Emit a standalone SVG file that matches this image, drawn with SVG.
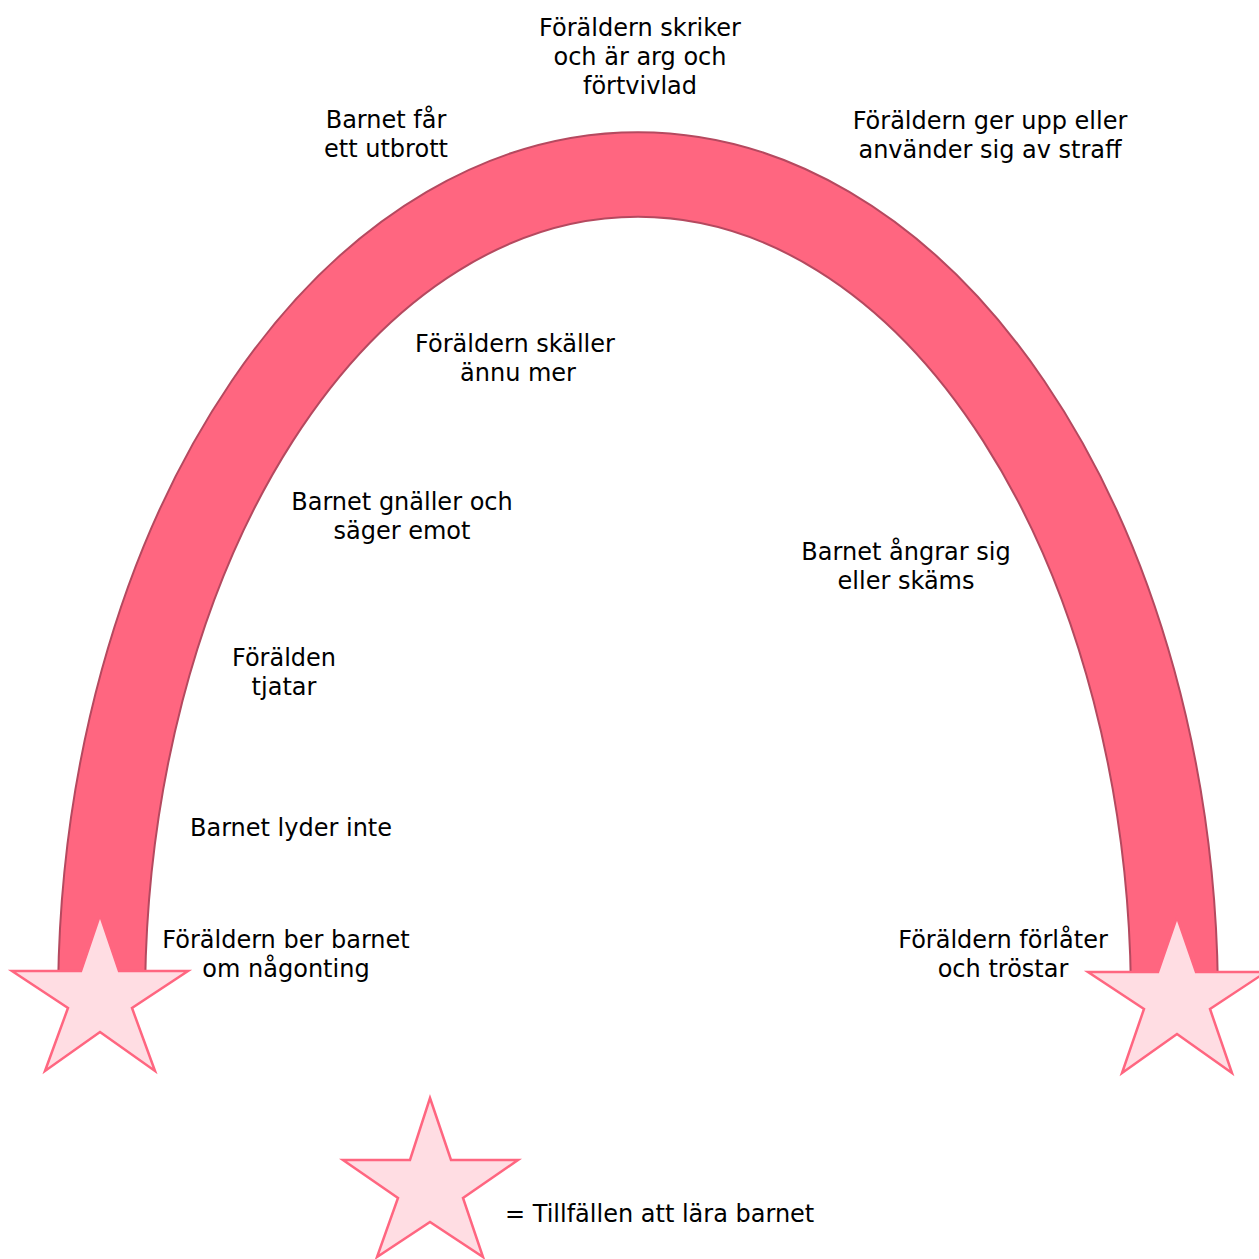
<svg xmlns="http://www.w3.org/2000/svg" width="1259" height="1259" viewBox="0 0 1259 1259">
  <style>
    .lbl { font-family: "DejaVu Sans", Verdana, sans-serif; font-size: 24px; fill: #000000; text-anchor: middle; }
    .star { fill: #FFDDE3; stroke: #FF6680; stroke-width: 2.5; stroke-linejoin: miter; }
    .arc { fill: #FF6680; stroke: #B5495F; stroke-width: 2; }
  </style>
  <rect width="1259" height="1259" fill="#FFFFFF"/>
  <g id="arc">
    <path class="arc" d="M 58.1,985 A 580 869 0 0 1 1217.9,985 L 1130.9,985 A 493 784 0 0 0 145.1,985 Z"/>
  </g>
  <g id="star-left">
    <polygon class="star" points="100,915 119,971 188,971 132,1008 155,1071 100,1032 45,1071 68,1008 12,971 81,971"/>
  </g>
  <g id="star-right">
    <polygon class="star" points="1177,917 1196,972 1266,972 1210,1009 1232,1073 1177,1034 1122,1073 1144,1009 1088,972 1158,972"/>
  </g>
  <g id="star-legend">
    <polygon class="star" points="430,1098 451,1160 518,1160 463,1198 483,1257 430,1222 377,1257 398,1198 343,1160 410,1160"/>
  </g>
  <g id="connectors"></g>
  <g id="label-skriker">
    <text class="lbl" x="640" y="36">Föräldern skriker</text>
    <text class="lbl" x="640" y="65">och är arg och</text>
    <text class="lbl" x="640" y="94">förtvivlad</text>
  </g>
  <g id="label-utbrott">
    <text class="lbl" x="386" y="128">Barnet får</text>
    <text class="lbl" x="386" y="157">ett utbrott</text>
  </g>
  <g id="label-gerupp">
    <text class="lbl" x="990" y="129">Föräldern ger upp eller</text>
    <text class="lbl" x="990" y="158">använder sig av straff</text>
  </g>
  <g id="label-skaller">
    <text class="lbl" x="515" y="352">Föräldern skäller</text>
    <text class="lbl" x="518" y="381">ännu mer</text>
  </g>
  <g id="label-gnaller">
    <text class="lbl" x="402" y="510">Barnet gnäller och</text>
    <text class="lbl" x="402" y="539">säger emot</text>
  </g>
  <g id="label-tjatar">
    <text class="lbl" x="284" y="666">Förälden</text>
    <text class="lbl" x="284" y="695">tjatar</text>
  </g>
  <g id="label-lyder">
    <text class="lbl" x="291" y="836">Barnet lyder inte</text>
  </g>
  <g id="label-ber">
    <text class="lbl" x="286" y="948">Föräldern ber barnet</text>
    <text class="lbl" x="286" y="977">om någonting</text>
  </g>
  <g id="label-angrar">
    <text class="lbl" x="906" y="560">Barnet ångrar sig</text>
    <text class="lbl" x="906" y="589">eller skäms</text>
  </g>
  <g id="label-forlater">
    <text class="lbl" x="1003" y="948">Föräldern förlåter</text>
    <text class="lbl" x="1003" y="977">och tröstar</text>
  </g>
  <g id="legend-text">
    <text class="lbl" x="505" y="1222" style="text-anchor:start">= Tillfällen att lära barnet</text>
  </g>
</svg>
